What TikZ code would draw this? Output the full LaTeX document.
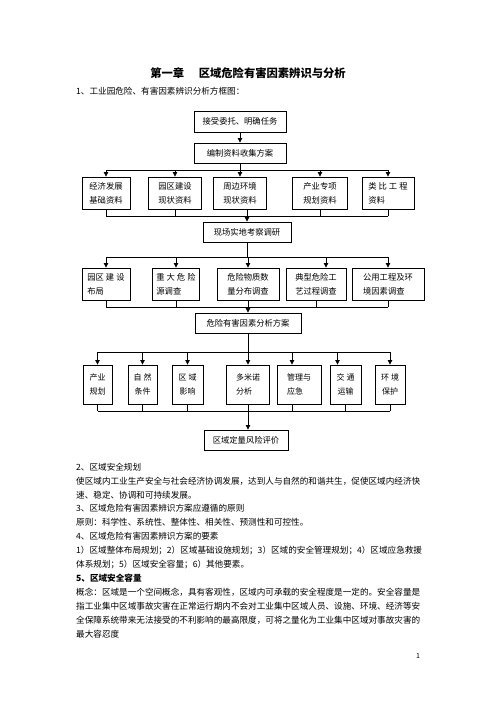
\documentclass[tikz,border=0pt]{standalone}
\usepackage{fontspec}
\setmainfont{Noto Sans CJK SC}
\usetikzlibrary{arrows.meta,calc}
\XeTeXlinebreaklocale "zh"
\XeTeXlinebreakskip = 0pt plus 1pt
\newcommand{\kg}{\hspace{2pt}}
\begin{document}
\begin{tikzpicture}[x=1pt,y=-1pt,
  box/.style={draw, line width=0.9pt, inner sep=0pt, align=left, font=\fontsize{8.3}{14}\selectfont},
  sbox/.style={box, font=\fontsize{8}{14}\selectfont},
  ln/.style={line width=0.8pt},
  arr/.style={ln,-{Triangle[length=4.5pt,width=4.5pt]}},
  body/.style={anchor=west, inner sep=0pt, font=\fontsize{8.6}{12}\selectfont}
]
\useasboundingbox[fill=white] (0,0) rectangle (496,702);

% title and caption
\node[font=\fontsize{11.3}{13}\selectfont\bfseries, inner sep=0pt] (title) at (248,73) {第一章\hspace{1.3em}区域危险有害因素辨识与分析};
\node[body] (cap) at (76,91) {1、工业园危险、有害因素辨识分析方框图：};

% top boxes
\node[box, align=center, minimum width=92, minimum height=21] (n1) at (240,121.5) {接受委托、明确任务};
\node[box, align=center, minimum width=92, minimum height=20] (n2) at (240,153) {编制资料收集方案};

% row 1
\node[box, minimum width=48, minimum height=32] (r1a) at (106,193) {经济发展\\基础资料};
\node[box, minimum width=53, minimum height=32] (r1b) at (175,193) {园区建设\\现状资料};
\node[box, minimum width=53, minimum height=32] (r1c) at (240,193) {周边环境\\现状资料};
\node[box, minimum width=55, minimum height=32] (r1d) at (320,193) {产业专项\\规划资料};
\node[box, minimum width=52, minimum height=32] (r1e) at (388,193) {类\kg 比\kg 工\kg 程\\资料\hphantom{资料}};

\node[box, align=center, minimum width=88, minimum height=20] (n3) at (247,232) {现场实地考察调研};

% row 2
\node[box, minimum width=48, minimum height=32] (r2a) at (106,284) {园区\kg 建\kg 设\\布局};
\node[box, minimum width=47, minimum height=32] (r2b) at (176,284) {重\kg 大\kg 危\kg 险\\源调查};
\node[box, minimum width=62, minimum height=32] (r2c) at (248,284) {危险物质数\\量分布调查};
\node[box, minimum width=60, minimum height=32] (r2d) at (316,284) {典型危险工\\艺过程调查};
\node[box, minimum width=72, minimum height=32] (r2e) at (388,284) {公用工程及环\\境因素调查};

\node[box, align=center, minimum width=106, minimum height=20] (n4) at (248,323) {危险有害因素分析方案};

% row 3
\node[sbox, align=center, minimum width=29, minimum height=39] (r3a) at (97.5,384.5) {产业\\规划};
\node[sbox, align=center, minimum width=29, minimum height=39] (r3b) at (142.5,384.5) {自\kg 然\\条件};
\node[sbox, align=center, minimum width=31, minimum height=39] (r3c) at (187.5,384.5) {区\kg 域\\影响};
\node[sbox, minimum width=43, minimum height=39] (r3d) at (248,384.5) {多米诺\hspace{7pt}\\分析};
\node[sbox, minimum width=44, minimum height=39] (r3e) at (299,384.5) {管理与\hspace{3pt}\\应急};
\node[sbox, align=center, minimum width=31, minimum height=39] (r3f) at (345.5,384.5) {交\kg 通\\运输};
\node[sbox, align=center, minimum width=30, minimum height=39] (r3g) at (390,384.5) {环\kg 境\\保护};

\node[box, align=center, minimum width=84, minimum height=20] (n5) at (246,440) {区域定量风险评价};

% shifted attachment points
\coordinate (r2dt) at ([xshift=10pt]r2d.north);
\coordinate (r3et) at ([xshift=-7pt]r3e.north);
\coordinate (r3eb) at ([xshift=-7pt]r3e.south);
\coordinate (r3ft) at ([xshift=-8pt]r3f.north);

% connectors: top
\draw[arr] (n1.south) -- (n2.north);
\coordinate (j1) at ($(n2.south)+(0,7)$);
\draw[ln] (n2.south) -- (j1);
\draw[ln] (j1 -| r1a) -- (j1 -| r1e);
\foreach \n in {r1a,r1b,r1c,r1d,r1e} \draw[arr] (j1 -| \n) -- (\n.north);
\coordinate (m1) at ($(r1a.south)+(0,7)$);
\foreach \n in {r1a,r1b,r1d,r1e} \draw[ln] (\n.south) -- (m1 -| \n);
\draw[ln] (m1 -| r1a) -- (m1 -| r1e);
\draw[arr] (r1c.south -| n3) -- (n3.north);

% row 2
\coordinate (j2) at ($(n3.south)+(0,15)$);
\draw[ln] (n3.south) -- (j2);
\draw[ln] (j2 -| r2a) -- (j2 -| r2e);
\foreach \n in {r2a,r2b,r2c,r2e} \draw[arr] (j2 -| \n) -- (\n.north);
\draw[arr] (j2 -| r2dt) -- (r2dt);
\coordinate (m2) at ($(r2a.south)+(0,7)$);
\foreach \n in {r2a,r2b,r2d,r2e} \draw[ln] (\n.south) -- (m2 -| \n);
\draw[ln] (m2 -| r2a) -- (m2 -| r2e);
\draw[arr] (r2c.south) -- (n4.north);

% row 3
\coordinate (j3) at ($(n4.south)+(0,19)$);
\draw[ln] (n4.south) -- (j3);
\draw[ln] (j3 -| r3a) -- (j3 -| r3g);
\foreach \n in {r3a,r3b,r3c,r3d,r3g} \draw[arr] (j3 -| \n) -- (\n.north);
\draw[arr] (j3 -| r3et) -- (r3et);
\draw[arr] (j3 -| r3ft) -- (r3ft);
\coordinate (m3) at ($(r3a.south)+(0,7)$);
\foreach \n in {r3a,r3b,r3c,r3f,r3g} \draw[ln] (\n.south) -- (m3 -| \n);
\draw[ln] (r3eb) -- (m3 -| r3eb);
\draw[ln] (m3 -| r3a) -- (m3 -| r3g);
\draw[arr] (r3d.south) -- (r3d.south |- n5.north);

% body text
\node[body] (t1) at (76,467) {2、区域安全规划};
\node[body] (t2) at (76,480.9) {\makebox[344pt][s]{使区域内工业生产安全与社会经济协调发展，达到人与自然的和谐共生，促使区域内经济快}};
\node[body] (t3) at (76,494.8) {速、稳定、协调和可持续发展。};
\node[body] (t4) at (76,508.7) {3、区域危险有害因素辨识方案应遵循的原则};
\node[body] (t5) at (76,522.6) {原则：科学性、系统性、整体性、相关性、预测性和可控性。};
\node[body] (t6) at (76,536.5) {4、区域危险有害因素辨识方案的要素};
\node[body] (t7) at (76,550.4) {\makebox[344pt][s]{1）区域整体布局规划；2）区域基础设施规划；3）区域的安全管理规划；4）区域应急救援}};
\node[body] (t8) at (76,564.3) {体系规划；5）区域安全容量；6）其他要素。};
\node[body, font=\fontsize{8.6}{12}\selectfont\bfseries] (t9) at (76,578.2) {5、区域安全容量};
\node[body] (t10) at (76,592.1) {\makebox[344pt][s]{概念：区域是一个空间概念，具有客观性，区域内可承载的安全程度是一定的。安全容量是}};
\node[body] (t11) at (76,606) {\makebox[344pt][s]{指工业集中区域事故灾害在正常运行期内不会对工业集中区域人员、设施、环境、经济等安}};
\node[body] (t12) at (76,619.9) {\makebox[344pt][s]{全保障系统带来无法接受的不利影响的最高限度，可将之量化为工业集中区域对事故灾害的}};
\node[body] (t13) at (76,633.8) {最大容忍度};
\node[font=\fontsize{7}{8}\selectfont, inner sep=0pt] (pg) at (418,656) {1};
\end{tikzpicture}
\end{document}
